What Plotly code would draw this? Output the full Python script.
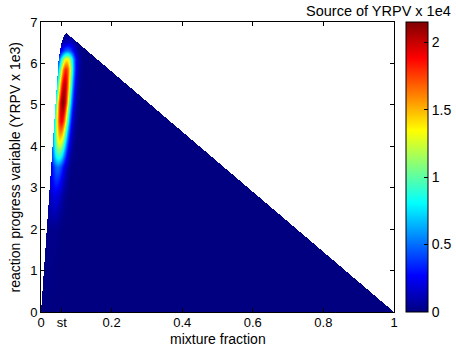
import numpy as np
import plotly.graph_objects as go

# ---- data ----
# upper boundary of the (mixture fraction, progress variable) domain
bound_Z = [0.0, 0.050, 0.054, 0.058, 0.063, 0.068, 0.072, 0.078, 1.0]
bound_C = [0.0, 6.10, 6.33, 6.50, 6.63, 6.71, 6.73, 6.69, 0.0]

# source amplitude along the ridge (x 1e4) vs progress variable
ridge_C = [0.0, 2.0, 2.8, 3.5, 3.75, 4.1, 4.6, 5.05, 5.5, 5.85, 6.1, 6.2, 6.3, 6.5, 6.73]
ridge_S = [0.0, 0.03, 0.2, 0.5, 0.9, 1.35, 1.9, 2.15, 2.0, 1.8, 1.35, 0.9, 0.5, 0.15, 0.0]
# ridge location in mixture fraction vs progress variable
center_C = [0.0, 3.9, 4.9, 5.85, 6.73]
center_Z = [0.0142, 0.052, 0.061, 0.071, 0.0795]
ridge_width = 0.015

x_tickvals = [0, 0.059, 0.2, 0.4, 0.6, 0.8, 1.0]
x_ticktext = ["0", "st", "0.2", "0.4", "0.6", "0.8", "1"]
y_tickvals = [0, 1, 2, 3, 4, 5, 6, 7]
cb_tickvals = [0, 0.5, 1, 1.5, 2]
cmax = 2.15

W, H = 456, 352
ML, MR, MT, MB = 41, 62, 22, 40
PW, PH = W - ML - MR, H - MT - MB

# ---- grid: one cell per screen pixel of the plot area ----
Zg = (np.arange(PW) + 0.5) / PW * 1.0
Cg = (np.arange(PH) + 0.5) / PH * 7.0
ZZ, CC = np.meshgrid(Zg, Cg)
Cmax = np.interp(ZZ, bound_Z, bound_C)
amp = np.interp(CC, ridge_C, ridge_S)
zc = np.interp(CC, center_C, center_Z)
S = amp * np.exp(-0.5 * ((ZZ - zc) / ridge_width) ** 2)
S = np.where(CC <= Cmax, S, np.nan).astype(np.float32)

jet = [
    [0.0, "rgb(0,0,128)"],
    [0.125, "rgb(0,0,255)"],
    [0.375, "rgb(0,255,255)"],
    [0.625, "rgb(255,255,0)"],
    [0.875, "rgb(255,0,0)"],
    [1.0, "rgb(128,0,0)"],
]

fam = "Liberation Sans, Arial, Helvetica, sans-serif"
tick_font = dict(family=fam, size=13, color="black")
title_font = dict(family=fam, size=14, color="black")

fig = go.Figure()
fig.add_trace(go.Heatmap(
    x=Zg, y=Cg, z=S, zmin=0, zmax=cmax, colorscale=jet,
    hoverinfo="skip",
    colorbar=dict(
        x=1.034, xanchor="left", y=0.5, yanchor="middle", len=1.0, lenmode="fraction",
        thickness=22, thicknessmode="pixels",
        outlinewidth=1, outlinecolor="black",
        tickvals=cb_tickvals, ticktext=["0", "0.5", "1", "1.5", "2"],
        ticks="inside", ticklen=4, tickcolor="black",
        tickfont=dict(family=fam, size=14, color="black"),
        xpad=0, ypad=0,
    ),
))

fig.update_layout(
    width=W, height=H,
    margin=dict(l=ML, r=MR, t=MT, b=MB, autoexpand=False),
    paper_bgcolor="white", plot_bgcolor="white",
    font=tick_font,
    xaxis=dict(
        range=[0, 1], tickvals=x_tickvals, ticktext=x_ticktext,
        ticks="inside", ticklen=4, tickcolor="black",
        showline=True, linecolor="black", linewidth=1, mirror="ticks",
        showgrid=False, zeroline=False, automargin=False,
        tickfont=tick_font, ticklabelstandoff=-2,
    ),
    yaxis=dict(
        range=[0, 7], tickvals=y_tickvals,
        ticks="inside", ticklen=4, tickcolor="black",
        showline=True, linecolor="black", linewidth=1, mirror="ticks",
        showgrid=False, zeroline=False, automargin=False,
        tickfont=tick_font,
    ),
    annotations=[
        dict(text="Source of YRPV x 1e4", xref="paper", yref="paper",
             x=1.167, y=1.0, xanchor="right", yanchor="bottom", yshift=1,
             showarrow=False, font=dict(family=fam, size=14.5, color="black")),
        dict(text="mixture fraction", xref="paper", yref="paper",
             x=0.5, y=-0.093, xanchor="center", yanchor="middle",
             showarrow=False, font=title_font),
        dict(text="reaction progress variable (YRPV x 1e3)", xref="paper", yref="paper",
             x=-0.075, y=0.5, xanchor="center", yanchor="middle", textangle=-90,
             showarrow=False, font=title_font),
    ],
)

fig.write_html("out.html", config={"displayModeBar": False},
               post_script="document.body.style.margin='0px';")
